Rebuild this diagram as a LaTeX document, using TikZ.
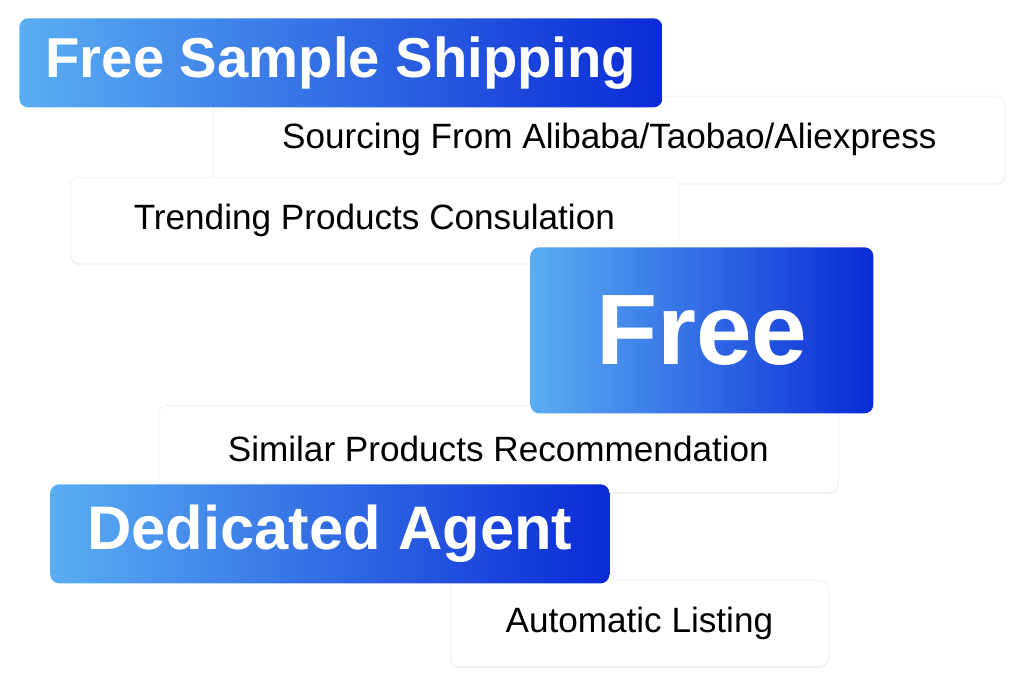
\documentclass[tikz,border=0pt]{standalone}
\usepackage{fontspec}
\setmainfont{Liberation Sans}
\usetikzlibrary{positioning,shadows}
\definecolor{lightblue}{HTML}{5AAEF2}
\definecolor{deepblue}{HTML}{0A2AD6}
\tikzset{
  card/.style={anchor=north west, fill=white, draw=gray!12, rounded corners=5pt,
    drop shadow={shadow xshift=0pt, shadow yshift=-1pt, fill=gray!25, opacity=.4},
    font=\fontsize{20}{24}\selectfont, text=black, inner sep=0pt},
  badge/.style={anchor=north west, left color=lightblue, right color=deepblue,
    rounded corners=5pt, text=white, font=\bfseries, inner sep=0pt}
}
\begin{document}
\begin{tikzpicture}[x=0.02cm, y=-0.02cm]
\useasboundingbox[fill=white] (0,0) rectangle (1024,686);

% white cards
\node[card, minimum width=792*0.02cm, minimum height=87*0.02cm] (sourcing) at (213,96) {Sourcing From Alibaba/Taobao/Aliexpress};
\node[card, minimum width=608*0.02cm, minimum height=86*0.02cm] (trending) at (70,177) {Trending Products Consulation};
\node[card, minimum width=680*0.02cm, minimum height=87*0.02cm] (similar) at (158,405) {Similar Products Recommendation};
\node[card, minimum width=378*0.02cm, minimum height=86*0.02cm] (listing) at (450,580) {Automatic Listing};

% blue badges
\node[badge, minimum width=643*0.02cm, minimum height=89*0.02cm, font=\bfseries\fontsize{32}{36}\selectfont] (shipping) at (19,18) {Free Sample Shipping};
\node[badge, minimum width=343*0.02cm, minimum height=166*0.02cm, font=\bfseries\fontsize{57}{62}\selectfont] (free) at (530,247) {Free};
\node[badge, minimum width=559*0.02cm, minimum height=99*0.02cm, font=\bfseries\fontsize{35}{40}\selectfont] (agent) at (50,484) {Dedicated Agent};
\end{tikzpicture}
\end{document}
